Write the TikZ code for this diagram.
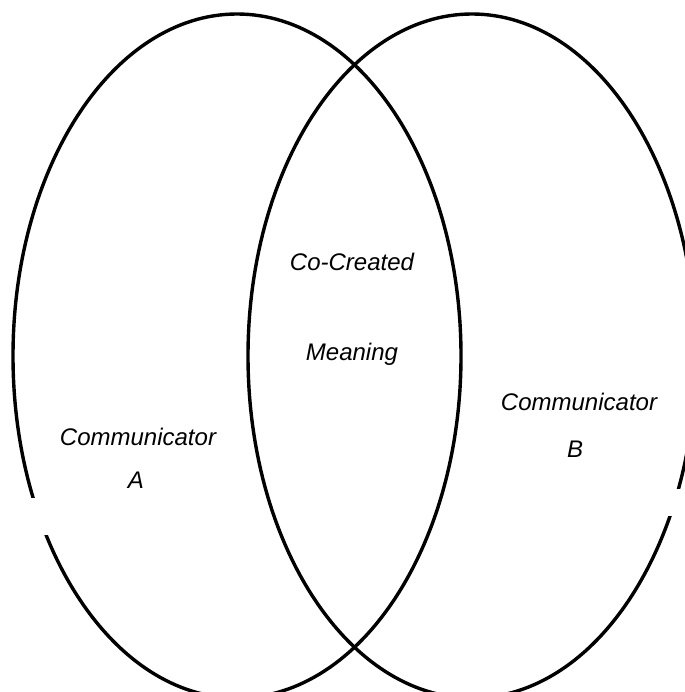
\documentclass[tikz,border=0pt]{standalone}
\usepackage{fontspec}
\setmainfont{Liberation Sans}
\begin{document}
\begin{tikzpicture}[x=1pt,y=-1pt,
  ring/.style={draw=black,line width=3.4pt},
  lbl/.style={anchor=base,inner sep=0pt,font=\fontsize{24}{28}\selectfont\itshape}]
\useasboundingbox (0,0) rectangle (684,692);
% the two overlapping communicators
\draw[ring] (237,356) ellipse [x radius=224,y radius=342];
\draw[ring] (472,356) ellipse [x radius=224,y radius=342];
% breaks in the outlines
\fill[white] (20,498) rectangle (62,535);
\fill[white] (645,489) rectangle (684,516);
% labels
\node[lbl] (co) at (352,270) {Co-Created};
\node[lbl] (mean) at (352,360) {Meaning};
\node[lbl] (ca) at (138,445) {Communicator};
\node[lbl] (a) at (136,488) {A};
\node[lbl] (cb) at (579,410) {Communicator};
\node[lbl] (b) at (575,457) {B};
\end{tikzpicture}
\end{document}
